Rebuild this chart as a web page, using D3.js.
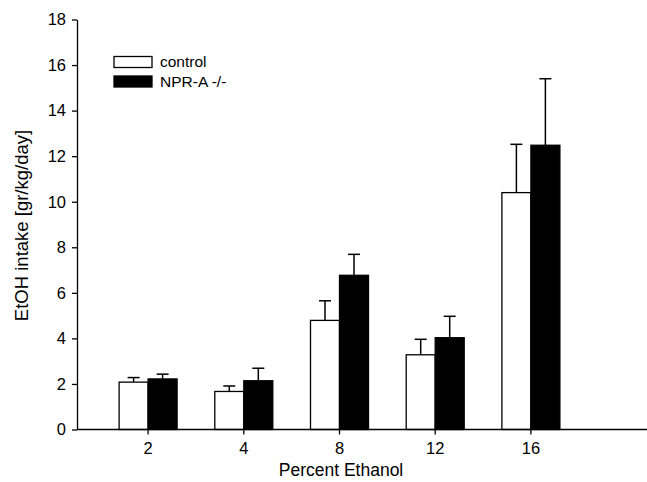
<!DOCTYPE html>
<html lang="en">
<head>
    <meta charset="utf-8">
    <title>EtOH intake</title>
    <style>
        body {
            margin: 0;
            background: #fff;
        }
        svg {
            font-family: "Liberation Sans", Arial, sans-serif;
        }
        .axis path, .axis line {
            stroke: #000;
            stroke-width: 1.3;
        }
        .axis text {
            font-size: 16.5px;
            fill: #000;
        }
    </style>
</head>
<body>
<svg width="647" height="482"></svg>

<script src="https://d3js.org/d3.v7.min.js"></script>
<script>

    // data
    const percents = ["2", "4", "8", "12", "16"];
    const controlMean = [2.08, 1.67, 4.79, 3.28, 10.4];
    const controlErr = [0.2, 0.24, 0.86, 0.68, 2.12];
    const npraMean = [2.22, 2.14, 6.77, 4.03, 12.48];
    const npraErr = [0.21, 0.55, 0.92, 0.94, 2.92];
    const yTicks = [0, 2, 4, 6, 8, 10, 12, 14, 16, 18];
    const seriesNames = ["control", "NPR-A -/-"];
    const seriesFill = ["#fff", "#000"];

    const svg = d3.select("svg");
    const margin = {left: 77, top: 19.5, bottom: 429.5};

    const y = d3.scaleLinear().domain([0, 18]).range([margin.bottom, margin.top]);
    const x = d3.scaleBand().domain(percents).range([margin.left, 602]).paddingOuter(0.243);
    const bw = 29;

    const series = seriesNames.map((name, s) => ({
        name: name,
        fill: seriesFill[s],
        values: percents.map((p, i) => ({
            p: p,
            mean: s === 0 ? controlMean[i] : npraMean[i],
            err: s === 0 ? controlErr[i] : npraErr[i],
            x0: x(p) + x.bandwidth() / 2 + (s === 0 ? -bw : 0)
        }))
    }));

    // error bars (up only), drawn behind bars
    series.forEach(ser => {
        const g = svg.append("g");
        ser.values.forEach(d => {
            const cx = d.x0 + bw / 2;
            g.append("line")
                .attr("x1", cx).attr("x2", cx)
                .attr("y1", y(d.mean)).attr("y2", y(d.mean + d.err))
                .attr("stroke", "#000").attr("stroke-width", 1.5);
            g.append("line")
                .attr("x1", cx - 6).attr("x2", cx + 6)
                .attr("y1", y(d.mean + d.err)).attr("y2", y(d.mean + d.err))
                .attr("stroke", "#000").attr("stroke-width", 1.5);
        });
    });

    // bars
    series.forEach(ser => {
        svg.append("g").selectAll("rect")
            .data(ser.values)
            .join("rect")
            .attr("x", d => d.x0)
            .attr("width", bw)
            .attr("y", d => y(d.mean))
            .attr("height", d => y(0) - y(d.mean))
            .attr("fill", ser.fill)
            .attr("stroke", "#000")
            .attr("stroke-width", 1.3);
    });

    // y axis
    svg.append("g")
        .attr("class", "axis")
        .attr("transform", `translate(${margin.left},0)`)
        .call(d3.axisLeft(y).tickValues(yTicks).tickSize(5).tickSizeOuter(0).tickPadding(6));

    // x axis, line runs on to the right edge
    const xAxis = svg.append("g")
        .attr("class", "axis")
        .attr("transform", `translate(0,${margin.bottom})`)
        .call(d3.axisBottom(x).tickSize(5).tickSizeOuter(0).tickPadding(8));
    xAxis.select(".domain").remove();
    xAxis.append("line")
        .attr("x1", margin.left).attr("x2", 647)
        .attr("stroke", "#000").attr("stroke-width", 1.3);

    // axis titles
    svg.append("text")
        .attr("transform", "translate(28,225.5) rotate(-90)")
        .attr("text-anchor", "middle")
        .attr("font-size", 18.5)
        .text("EtOH intake [gr/kg/day]");

    svg.append("text")
        .attr("x", 341).attr("y", 476)
        .attr("text-anchor", "middle")
        .attr("font-size", 17.5)
        .text("Percent Ethanol");

    // legend
    const legend = svg.append("g").attr("transform", "translate(114,56.5)");
    seriesNames.forEach((name, i) => {
        legend.append("rect")
            .attr("x", 0).attr("y", i * 19.5)
            .attr("width", 38).attr("height", 11)
            .attr("fill", seriesFill[i])
            .attr("stroke", "#000").attr("stroke-width", 1.3);
        legend.append("text")
            .attr("x", 46).attr("y", i * 19.5 + 10.5)
            .attr("font-size", 15.5)
            .text(name);
    });

</script>
</body>
</html>
